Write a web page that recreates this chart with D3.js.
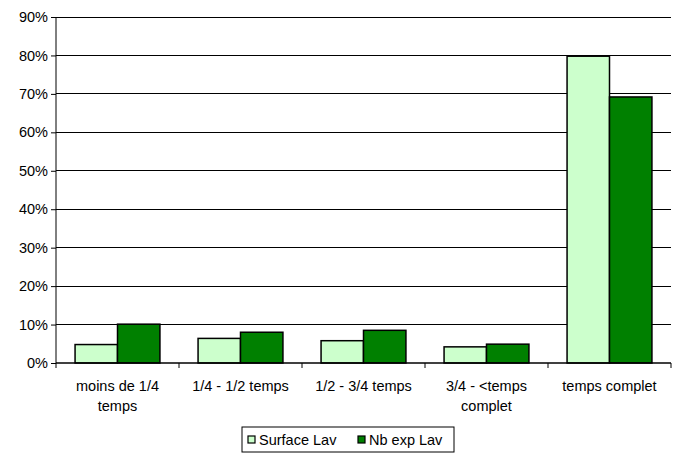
<!DOCTYPE html>
<html>
<head>
<meta charset="utf-8">
<script src="https://cdn.jsdelivr.net/npm/d3@7"></script>
<style>
  body { margin: 0; background: #fff; }
  svg { font-family: 'Liberation Sans', Arial, sans-serif; }
</style>
</head>
<body>
<div id="chart"></div>
<script>
// data
var categories = [
  ['moins de 1/4', 'temps'],
  ['1/4 - 1/2 temps'],
  ['1/2 - 3/4 temps'],
  ['3/4 - <temps', 'complet'],
  ['temps complet']
]
var surfaceLav = [0.048, 0.064, 0.058, 0.042, 0.798]
var nbExpLav = [0.101, 0.080, 0.085, 0.049, 0.692]
var seriesNames = ['Surface Lav', 'Nb exp Lav']
var yTicks = [0, 0.1, 0.2, 0.3, 0.4, 0.5, 0.6, 0.7, 0.8, 0.9]

var colors = ['#ccffcc', '#008000']
var fontSize = 14.5

var margin = { top: 17, left: 56, right: 2, bottom: 102 }
var width = 673 - margin.left - margin.right
var height = 465 - margin.top - margin.bottom

var svg = d3.select('#chart')
  .append('svg')
  .attr('width', 673)
  .attr('height', 465)

var g = svg.append('g')
  .attr('transform', 'translate(' + margin.left + ',' + margin.top + ')')

var xPositionScale = d3.scaleBand()
  .domain(d3.range(categories.length))
  .range([0, width])
  .paddingInner(0.31)
  .paddingOuter(0.155)

var xBand = d3.scaleBand()
  .domain([0, 1])
  .range([0, xPositionScale.bandwidth()])

var yPositionScale = d3.scaleLinear()
  .domain([0, 0.9])
  .range([height, 0])

// gridlines
g.selectAll('.grid')
  .data(yTicks.slice(1))
  .enter()
  .append('line')
  .attr('x1', 0)
  .attr('x2', width)
  .attr('y1', d => yPositionScale(d))
  .attr('y2', d => yPositionScale(d))
  .attr('stroke', '#000')
  .attr('stroke-width', 1)
  .attr('shape-rendering', 'crispEdges')

// y axis
var yAxis = d3.axisLeft(yPositionScale)
  .tickValues(yTicks)
  .tickFormat(d3.format('.0%'))
  .tickSize(5)
  .tickPadding(3)
g.append('g')
  .attr('class', 'axis y-axis')
  .call(yAxis)
  .call(s => s.select('.domain').attr('stroke', '#000').attr('d', 'M0,' + height + 'V0'))
  .call(s => s.selectAll('text').attr('font-size', fontSize).attr('fill', '#000').attr('font-family', "'Liberation Sans', Arial, sans-serif"))

// bars
var series = [surfaceLav, nbExpLav]
series.forEach(function(values, si) {
  g.selectAll('.bar-' + si)
    .data(values)
    .enter()
    .append('rect')
    .attr('x', (d, i) => xPositionScale(i) + xBand(si))
    .attr('y', d => yPositionScale(d))
    .attr('width', xBand.bandwidth())
    .attr('height', d => height - yPositionScale(d))
    .attr('fill', colors[si])
    .attr('stroke', '#000')
    .attr('stroke-width', 1.5)
})

// x axis line and category ticks
var tickXs = d3.range(categories.length + 1).map(i => i * width / categories.length)
g.append('line')
  .attr('x1', 0).attr('x2', width)
  .attr('y1', height).attr('y2', height)
  .attr('stroke', '#000')
  .attr('stroke-width', 1.5)
g.selectAll('.xtick')
  .data(tickXs)
  .enter()
  .append('line')
  .attr('x1', d => d).attr('x2', d => d)
  .attr('y1', height).attr('y2', height + 5)
  .attr('stroke', '#000')

// category labels
g.selectAll('.xlabel')
  .data(categories)
  .enter()
  .append('text')
  .attr('text-anchor', 'middle')
  .attr('font-size', fontSize)
  .attr('y', height + 28)
  .each(function(lines, i) {
    var t = d3.select(this)
    lines.forEach(function(line, li) {
      t.append('tspan')
        .attr('x', xPositionScale(i) + xPositionScale.bandwidth() / 2)
        .attr('dy', li === 0 ? 0 : 20)
        .text(line)
    })
  })

// legend
var legend = svg.append('g').attr('transform', 'translate(242,427)')
legend.append('rect')
  .attr('width', 212)
  .attr('height', 25)
  .attr('fill', '#fff')
  .attr('stroke', '#000')
var legendX = [6, 116]
seriesNames.forEach(function(name, si) {
  legend.append('rect')
    .attr('x', legendX[si])
    .attr('y', 9)
    .attr('width', 7)
    .attr('height', 7)
    .attr('fill', colors[si])
    .attr('stroke', '#000')
    .attr('stroke-width', 1.2)
  legend.append('text')
    .attr('x', legendX[si] + 11)
    .attr('y', 18)
    .attr('font-size', fontSize)
    .text(name)
})
</script>
</body>
</html>
